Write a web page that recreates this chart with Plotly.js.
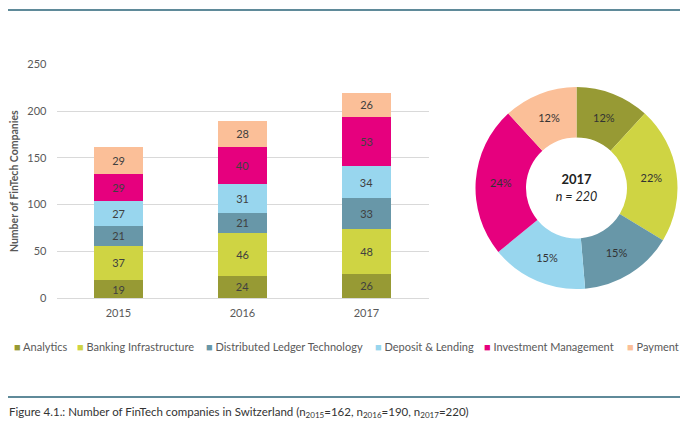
<!DOCTYPE html>
<html>
<head>
<meta charset="utf-8">
<script src="https://cdn.plot.ly/plotly-3.0.1.min.js"></script>
<style>
  html, body { margin: 0; padding: 0; background: #ffffff; }
  #chart { width: 688px; height: 426px; }
</style>
</head>
<body>
<div id="chart"></div>
<script>
// ---- Data ----
var years = ["2015", "2016", "2017"];
var segments = ["Analytics", "Banking Infrastructure", "Distributed Ledger Technology", "Deposit & Lending", "Investment Management", "Payment"];
var analytics   = [19, 24, 26];
var banking     = [37, 46, 48];
var dlt         = [21, 21, 33];
var deposit     = [27, 31, 34];
var investment  = [29, 40, 53];
var payment     = [29, 28, 26];
var donutYear = "2017";
var yTicks = [0, 50, 100, 150, 200, 250];

// ---- Styling ----
var colors = ["#979a34", "#cfd443", "#6897a8", "#98d6ee", "#e6007e", "#fbbf98"];
var FONT = "Lato, 'Open Sans', sans-serif";
var W = 688, H = 426;
var M = {l: 56, r: 0, t: 0, b: 0};
function px(x) { return (x - M.l) / (W - M.l - M.r); }
function py(y) { return 1 - (y - M.t) / (H - M.t - M.b); }

var seriesList = [analytics, banking, dlt, deposit, investment, payment];
var traces = seriesList.map(function (vals, i) {
  return {
    type: "bar",
    name: segments[i],
    x: years,
    y: vals,
    width: 0.4,
    marker: {color: colors[i], line: {width: 0}},
    texttemplate: "%{y}",
    textposition: "inside",
    insidetextanchor: "middle",
    textangle: 0,
    constraintext: "none",
    textfont: {family: FONT, size: 11, color: "#404040"},
    showlegend: false,
    hoverinfo: "skip"
  };
});

var totals = years.map(function (y, j) {
  return seriesList.reduce(function (s, arr) { return s + arr[j]; }, 0);
});

var di = years.indexOf(donutYear);
var donutValues = seriesList.map(function (arr) { return arr[di]; });

traces.push({
  type: "pie",
  labels: segments,
  values: donutValues,
  hole: 0.5,
  sort: false,
  direction: "clockwise",
  rotation: 0,
  marker: {colors: colors, line: {width: 0}},
  texttemplate: "%{percent:.0%}",
  textposition: "inside",
  insidetextorientation: "horizontal",
  textfont: {family: FONT, size: 11, color: "#333333"},
  domain: {x: [px(475.5), px(677.5)], y: [py(289), py(87)]},
  title: {
    text: "<span style='font-size:13px'><b>" + donutYear + "</b></span><br><i>n = " + totals[di] + "</i>",
    position: "middle center",
    font: {family: FONT, size: 12.5, color: "#222222"}
  },
  showlegend: false,
  hoverinfo: "skip"
});

var annotations = years.map(function (y, j) {
  return {
    x: y, y: totals[j], xref: "x", yref: "y",
    text: "<i>n=" + totals[j] + "</i>",
    showarrow: false, yanchor: "bottom", yshift: 5,
    font: {family: FONT, size: 11, color: "#404040"}
  };
});

// legend entries (square glyph + label)
var legendX = [12, 74.5, 204, 372.5, 481.5, 625];
segments.forEach(function (s, i) {
  annotations.push({
    xref: "paper", yref: "paper",
    x: px(legendX[i]), y: py(346.5),
    xanchor: "left", yanchor: "middle",
    showarrow: false,
    text: "<span style='color:" + colors[i] + "'>■</span> " + s,
    font: {family: FONT, size: 11, color: "#595959"}
  });
});

// caption
annotations.push({
  xref: "paper", yref: "paper",
  x: px(7), y: py(412.5),
  xanchor: "left", yanchor: "middle",
  showarrow: false,
  text: "Figure 4.1.: Number of FinTech companies in Switzerland (n<sub>2015</sub>=" + totals[0] +
        ", n<sub>2016</sub>=" + totals[1] + ", n<sub>2017</sub>=" + totals[2] + ")",
  font: {family: FONT, size: 11.5, color: "#333333"}
});

var layout = {
  width: W, height: H,
  margin: M,
  paper_bgcolor: "#ffffff",
  plot_bgcolor: "#ffffff",
  barmode: "stack",
  font: {family: FONT, color: "#595959"},
  showlegend: false,
  xaxis: {
    type: "category",
    domain: [px(56.5), px(428.5)],
    range: [-0.5, 2.5],
    showgrid: false, showline: false, zeroline: false,
    ticks: "",
    ticklabelstandoff: 7,
    tickfont: {family: FONT, size: 11, color: "#595959"},
    fixedrange: true
  },
  yaxis: {
    domain: [py(298), py(64.5)],
    range: [0, 250],
    tickvals: yTicks,
    showgrid: true, gridcolor: "#d9d9d9", gridwidth: 1,
    zeroline: true, zerolinecolor: "#d9d9d9", zerolinewidth: 1,
    showline: false, ticks: "",
    ticklabelstandoff: 9,
    tickfont: {family: FONT, size: 11, color: "#595959"},
    title: {
      text: "<b>Number of FinTech Companies</b>",
      font: {family: FONT, size: 10.5, color: "#595959"},
      standoff: 6
    },
    fixedrange: true
  },
  annotations: annotations,
  shapes: [
    {type: "line", xref: "paper", yref: "paper", x0: px(8), x1: px(680), y0: py(10), y1: py(10),
     line: {color: "#5f8a99", width: 2}},
    {type: "line", xref: "paper", yref: "paper", x0: px(8), x1: px(680), y0: py(397), y1: py(397),
     line: {color: "#5f8a99", width: 2}}
  ]
};

Plotly.newPlot("chart", traces, layout, {displayModeBar: false, staticPlot: true});
</script>
</body>
</html>
